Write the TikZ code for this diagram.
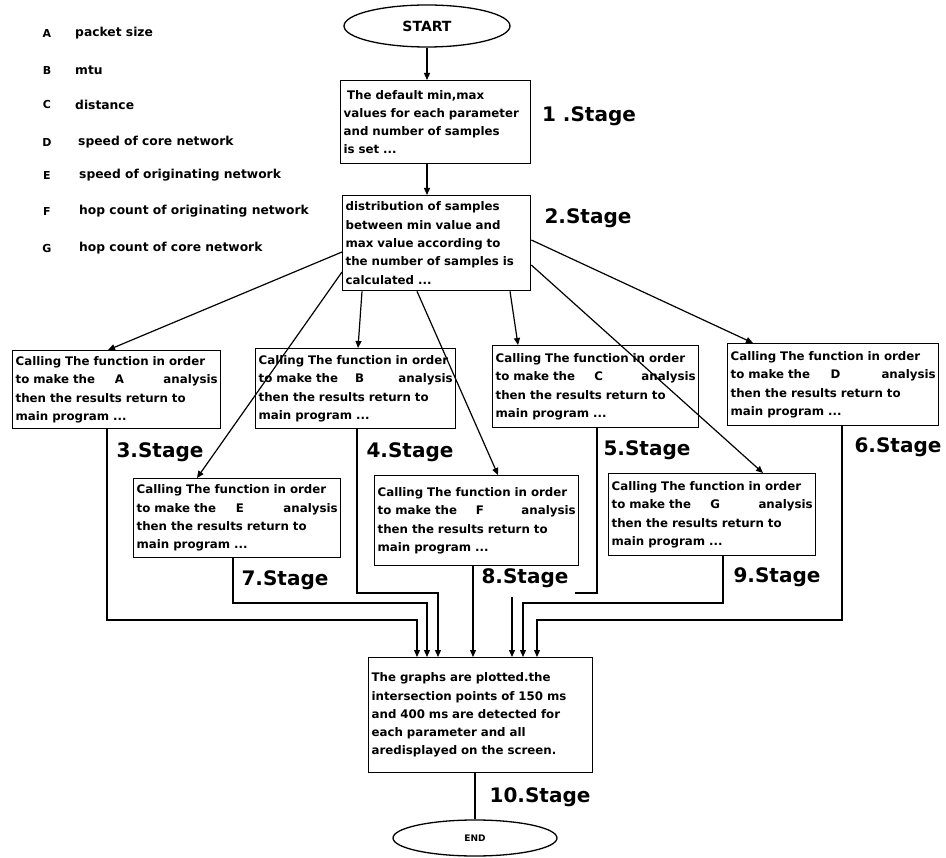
\documentclass[tikz,border=0pt]{standalone}
\usepackage{fontspec}
\setmainfont{DejaVu Sans}
\usetikzlibrary{arrows.meta,shapes.geometric,calc}
\newcommand{\oneline}[1]{\mbox{#1}}
\newcommand{\spreadline}[1]{\makebox[\linewidth][s]{#1}}
\newcommand{\callbox}[1]{\oneline{Calling The function in order}\\\spreadline{to make the\hfill #1\hfill\hfill analysis}\\\oneline{then the results return to}\\\oneline{main program ...}}
\begin{document}
\begin{tikzpicture}[x=1pt,y=-1pt,
  box/.style={draw, line width=1.3pt, rectangle, anchor=north west, align=left,
    inner xsep=3pt, inner ysep=3pt, font=\bfseries\fontsize{11.8}{18.3}\selectfont},
  oval/.style={draw, ellipse, line width=1.3pt, inner sep=0pt},
  stagelbl/.style={font=\bfseries\fontsize{20}{22}\selectfont, inner sep=0pt},
  legl/.style={font=\bfseries\fontsize{11}{13}\selectfont, inner sep=0pt},
  legt/.style={font=\bfseries\fontsize{12.3}{14}\selectfont, anchor=west, inner sep=0pt},
  conn/.style={line width=1.2pt},
  arr/.style={conn, -{Triangle[length=7pt,width=6pt]}}]
\useasboundingbox (0,0) rectangle (946,858);
\fill[white] (0,0) rectangle (946,858);

% legend
\foreach \l/\t/\y/\tx in {A/packet size/33/75, B/mtu/70/75, C/distance/105/75,
  D/speed of core network/142/78, E/speed of originating network/175/79,
  F/hop count of originating network/211/79, G/hop count of core network/248/79}{
  \node[legl] (leg\l) at (47,\y) {\l};
  \node[legt] (legt\l) at (\tx,\y) {\t};
}

% start / end
\node[oval, minimum width=166pt, minimum height=42pt, font=\bfseries\fontsize{14}{16}\selectfont] (start) at (427,26) {START};
\node[oval, minimum width=164pt, minimum height=36pt, font=\bfseries\fontsize{9}{11}\selectfont] (end) at (475,838) {END};

% stage 1 and 2
\node[box, text width=184pt, minimum height=83pt] (b1) at (340,80)
  {\oneline{\hspace{0.3em}The default min,max}\\\oneline{values for each parameter}\\\oneline{and number of samples}\\\oneline{is set ...}};
\node[box, text width=182pt, minimum height=95pt] (b2) at (342,195)
  {\oneline{distribution of samples}\\\oneline{between min value and}\\\oneline{max value according to}\\\oneline{the number of samples is}\\\oneline{calculated ...}};

% function boxes
\node[box, text width=202pt, minimum height=78pt] (fa) at (12,350) {\callbox{A}};
\node[box, text width=194pt, minimum height=80pt] (fb) at (255,348) {\callbox{B}};
\node[box, text width=200pt, minimum height=82pt] (fc) at (492,345) {\callbox{C}};
\node[box, text width=205pt, minimum height=82pt] (fd) at (727,343) {\callbox{D}};
\node[box, text width=201pt, minimum height=79pt] (fe) at (133,478) {\callbox{E}};
\node[box, text width=198pt, minimum height=90pt] (ff) at (374,475) {\callbox{F}};
\node[box, text width=201pt, minimum height=82pt] (fg) at (608,473) {\callbox{G}};

% final box
\node[box, text width=218pt, minimum height=115pt] (fin) at (368,657)
  {\oneline{The graphs are plotted.the}\\\oneline{intersection points of 150 ms}\\\oneline{and 400 ms are detected for}\\\oneline{each parameter and all}\\\oneline{aredisplayed on the screen.}};

% stage labels
\node[stagelbl] (s1) at (589,116) {1 .Stage};
\node[stagelbl] (s2) at (588,218) {2.Stage};
\node[stagelbl] (s3) at (160,452) {3.Stage};
\node[stagelbl] (s4) at (410,452) {4.Stage};
\node[stagelbl] (s5) at (647,450) {5.Stage};
\node[stagelbl] (s6) at (898,447) {6.Stage};
\node[stagelbl] (s7) at (285,580) {7.Stage};
\node[stagelbl] (s8) at (525,578) {8.Stage};
\node[stagelbl] (s9) at (777,577) {9.Stage};
\node[stagelbl] (s10) at (540,797) {10.Stage};

% top arrows
\draw[arr] (start.south) -- (b1.north -| start.south);
\draw[arr] (b1.south -| start.south) -- (b2.north -| start.south);

% fan-out arrows
\draw[arr] ([yshift=-57pt]b2.north west) -- ([xshift=96pt]fa.north west);
\draw[arr] ([yshift=-77pt]b2.north west) -- ([xshift=64pt]fe.north west);
\draw[arr] ([xshift=20pt]b2.south west) -- ([xshift=103pt]fb.north west);
\draw[arr] ([xshift=75pt]b2.south west) -- ([xshift=124pt]ff.north west);
\draw[arr] ([xshift=168pt]b2.south west) -- ([xshift=26pt]fc.north west);
\draw[arr] ([yshift=-45pt]b2.north east) -- ([xshift=26pt]fd.north west);
\draw[arr] ([yshift=-70pt]b2.north east) -- ([xshift=155pt]fg.north west);

% collect coordinates
\coordinate (as) at ([xshift=95pt]fa.south west);
\coordinate (es) at ([xshift=100pt]fe.south west);
\coordinate (bs) at ([xshift=102pt]fb.south west);
\coordinate (fs) at ([xshift=99pt]ff.south west);
\coordinate (cs) at ([xshift=105pt]fc.south west);
\coordinate (gs) at ([xshift=115pt]fg.south west);
\coordinate (ds) at ([xshift=115pt]fd.south west);
\coordinate (ta) at ([xshift=49pt]fin.north west);
\coordinate (te) at ([xshift=59pt]fin.north west);
\coordinate (tb) at ([xshift=70pt]fin.north west);
\coordinate (tf) at ([xshift=105pt]fin.north west);
\coordinate (tx) at ([xshift=144pt]fin.north west);
\coordinate (tg) at ([xshift=155pt]fin.north west);
\coordinate (td) at ([xshift=169pt]fin.north west);
\coordinate (ya) at (0,620);
\coordinate (ye) at (0,603);
\coordinate (yb) at (0,593);
\coordinate (cend) at (575,593);
\coordinate (xstart) at (512,597);

\draw[arr] (as) |- (ya -| ta) -- (ta);
\draw[arr] (es) |- (ye -| te) -- (te);
\draw[arr] (bs) |- (yb -| tb) -- (tb);
\draw[arr] (fs) -- (tf);
\draw[conn] (cs) |- (cend);
\draw[arr] (xstart) -- (tx);
\draw[arr] (gs) |- (ye -| tg) -- (tg);
\draw[arr] (ds) |- (ya -| td) -- (td);

% to end
\draw[conn] (end.north |- fin.south) -- (end.north);
\end{tikzpicture}
\end{document}
